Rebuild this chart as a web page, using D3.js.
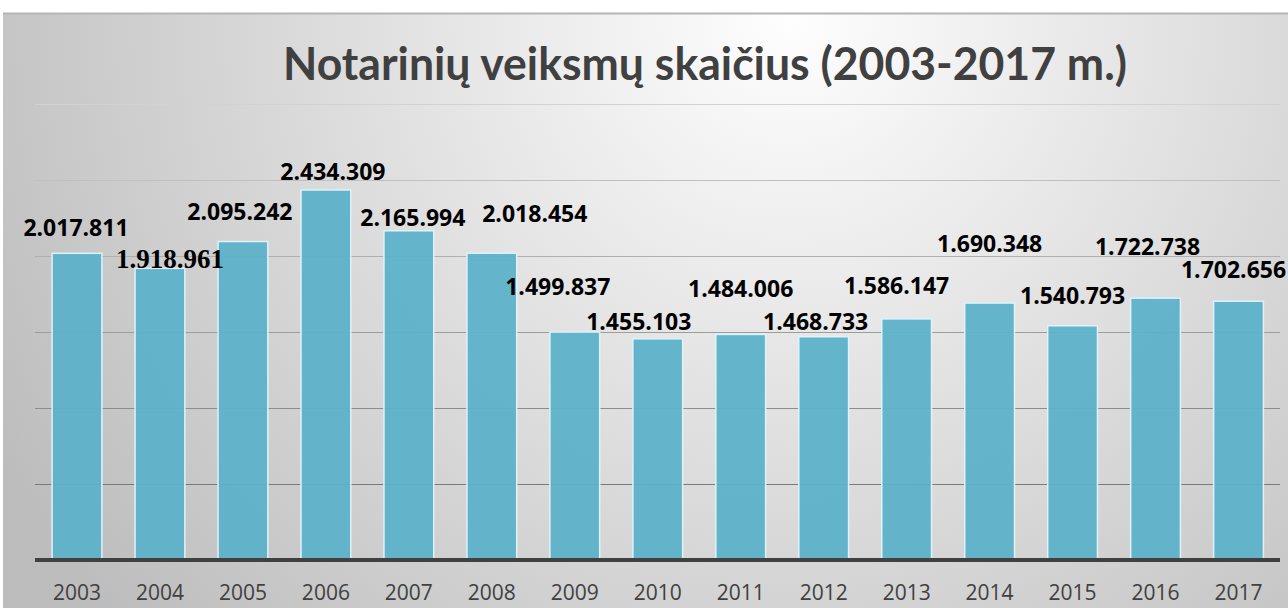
<!DOCTYPE html>
<html>
<head>
<meta charset="utf-8">
<script src="https://cdn.jsdelivr.net/npm/d3@7"></script>
<style>
  body { margin: 0; background: #fff; }
  svg { display: block; }
</style>
</head>
<body>
<svg width="1288" height="608"></svg>
<script>
var years = ["2003", "2004", "2005", "2006", "2007", "2008", "2009", "2010",
             "2011", "2012", "2013", "2014", "2015", "2016", "2017"];
var actions = [2017811, 1918961, 2095242, 2434309, 2165994, 2018454, 1499837, 1455103,
               1484006, 1468733, 1586147, 1690348, 1540793, 1722738, 1702656];
var gridTicks = [0, 500000, 1000000, 1500000, 2000000, 2500000, 3000000];

// labels in the original are scattered around the bars, not neatly on top
var labelNudge = [[-1, -26], [10, -10], [-3, -30], [7, -18], [4, -13], [43, -39], [-17, -45],
                  [-19, -17], [0, -46], [-8, -15], [-10, -33], [0, -59], [0, -30], [-8, -51], [-5, -31]];

var svg = d3.select("svg");

var fmt = d3.formatLocale({ decimal: ",", thousands: ".", grouping: [3], currency: ["", ""] }).format(",d");

// background
var defs = svg.append("defs");
var grad = defs.append("radialGradient")
    .attr("id", "bg")
    .attr("gradientUnits", "userSpaceOnUse")
    .attr("cx", 790).attr("cy", 20).attr("r", 900);
grad.append("stop").attr("offset", "0%").attr("stop-color", "#fefefe");
grad.append("stop").attr("offset", "100%").attr("stop-color", "#bdbdbd");

svg.append("rect")
    .attr("x", 3).attr("y", 13)
    .attr("width", 1290).attr("height", 600)
    .attr("fill", "url(#bg)");
svg.append("line")
    .attr("x1", 3).attr("x2", 1288).attr("y1", 13.5).attr("y2", 13.5)
    .attr("stroke", "#b5b5b5").attr("stroke-width", 2);

var x = d3.scaleBand()
    .domain(years)
    .range([35.5, 1280])
    .paddingInner(0.4)
    .paddingOuter(0.2);

var y = d3.scaleLinear()
    .domain([0, 3000000])
    .range([560, 104]);

var gridColor = d3.interpolateRgb("#7a7a7a", "#d2d2d2");

svg.append("g")
    .selectAll("line")
    .data(gridTicks.slice(1))
    .enter().append("line")
    .attr("x1", 35).attr("x2", 1280)
    .attr("y1", d => Math.round(y(d)) + 0.5)
    .attr("y2", d => Math.round(y(d)) + 0.5)
    .attr("stroke", (d, i) => gridColor(i / 5))
    .attr("stroke-width", 1.2);

svg.append("g")
    .selectAll("rect")
    .data(actions)
    .enter().append("rect")
    .attr("x", (d, i) => x(years[i]))
    .attr("width", x.bandwidth())
    .attr("y", d => y(d))
    .attr("height", d => y(0) - y(d))
    .attr("fill", "#5db2ca")
    .attr("fill-opacity", 0.95)
    .attr("stroke", "#dff2f7")
    .attr("stroke-width", 1.5);

// baseline
svg.append("line")
    .attr("x1", 35).attr("x2", 1280)
    .attr("y1", y(0)).attr("y2", y(0))
    .attr("stroke", "#404040")
    .attr("stroke-width", 4);

// x axis labels
var xAxis = svg.append("g")
    .attr("transform", "translate(0," + y(0) + ")")
    .call(d3.axisBottom(x).tickSize(0).tickPadding(25));
xAxis.select(".domain").remove();
xAxis.selectAll("text")
    .attr("font-family", "'Open Sans', sans-serif")
    .attr("font-size", 21)
    .attr("fill", "#404040");

// value labels
svg.append("g")
    .selectAll("text")
    .data(actions)
    .enter().append("text")
    .attr("x", (d, i) => x(years[i]) + x.bandwidth() / 2 + labelNudge[i][0])
    .attr("y", (d, i) => y(d) + labelNudge[i][1])
    .attr("dy", "0.36em")
    .attr("text-anchor", "middle")
    .attr("font-family", (d, i) => years[i] === "2004" ? "'Liberation Serif', serif" : "'Open Sans', sans-serif")
    .attr("font-weight", "bold")
    .attr("font-size", (d, i) => years[i] === "2004" ? 27 : 23)
    .attr("fill", "#000")
    .text(d => fmt(d));

// title
svg.append("text")
    .attr("x", 705)
    .attr("y", 80)
    .attr("text-anchor", "middle")
    .attr("font-family", "Lato, sans-serif")
    .attr("font-weight", "bold")
    .attr("font-size", 46)
    .attr("fill", "#404040")
    .attr("textLength", 844)
    .attr("lengthAdjust", "spacingAndGlyphs")
    .text("Notarinių veiksmų skaičius (2003-2017 m.)");
</script>
</body>
</html>
